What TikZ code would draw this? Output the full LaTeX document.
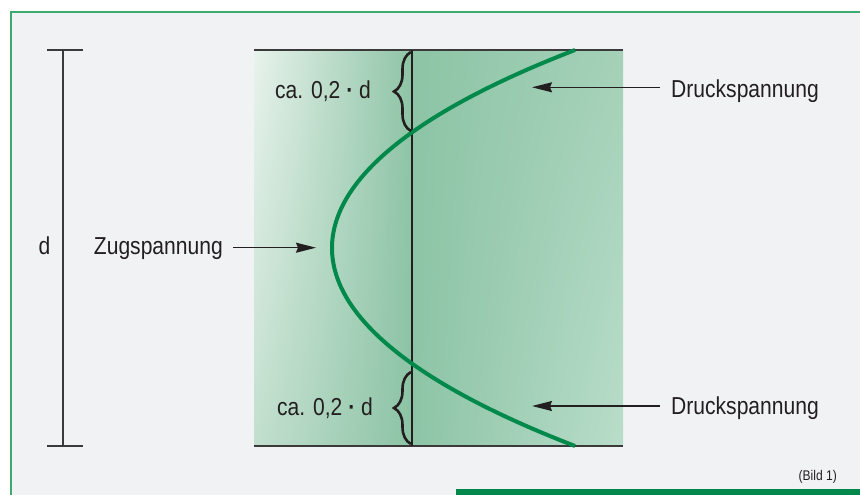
\documentclass[tikz,border=0pt]{standalone}
\usepackage{fontspec}
\setmainfont[FakeStretch=0.86]{Liberation Sans}
\usetikzlibrary{arrows.meta,decorations.pathreplacing,shadings}
\definecolor{bg}{HTML}{F1F2F4}
\definecolor{framec}{HTML}{3DAA6F}
\definecolor{curvec}{HTML}{00894B}
\definecolor{ink}{HTML}{231F20}
\definecolor{barc}{HTML}{00884A}
\definecolor{lineg}{HTML}{3A3A3A}
\newcommand{\mdot}{{\bfseries ·}}
\begin{document}
\begin{tikzpicture}[x=1pt,y=-1pt,
  lbl/.style={inner sep=0pt, font=\fontsize{24.5}{28}\selectfont, text=ink},
  arr/.style={draw=ink, line width=1.5pt, -{Stealth[length=20pt,width=10pt,inset=2pt]}},
  dimline/.style={draw=lineg, line width=1.3pt},
  bracec/.style={draw=ink, line width=2.6pt, decorate, decoration={brace,amplitude=17pt,aspect=0.5}},
  stress/.style={draw=curvec, line width=4pt}]
\useasboundingbox (0,0) rectangle (860,495);
\fill[white] (0,0) rectangle (860,495);
\fill[bg] (11,12) rectangle (860,495);
\draw[framec, line width=1.2pt] (11,495) -- (11,12) -- (860,12);
\fill[barc] (456,489) rectangle (860,495);
% shaded body
\shade[upper left={rgb,255:red,232;green,243;blue,236}, lower left={rgb,255:red,194;green,223;blue,206},
       upper right={rgb,255:red,142;green,196;blue,166}, lower right={rgb,255:red,140;green,195;blue,165}]
  (254,50) rectangle (412,446);
\shade[upper left={rgb,255:red,141;green,196;blue,166}, lower left={rgb,255:red,141;green,196;blue,166},
       upper right={rgb,255:red,164;green,209;blue,184}, lower right={rgb,255:red,185;green,221;blue,202}]
  (412,50) rectangle (623,446);
% body lines
\coordinate (tl) at (254,50); \coordinate (tr) at (623,50);
\coordinate (bl) at (254,446); \coordinate (br) at (623,446);
\coordinate (mt) at (412,50); \coordinate (mb) at (412,446);
\draw[dimline] (tl) -- (tr);
\draw[dimline] (bl) -- (br);
\draw[draw=ink, line width=1.6pt] (mt) -- (mb);
% stress curve
\coordinate (ct) at (575,50); \coordinate (cb) at (575,446);
\draw[stress] (ct) .. controls (251,175) and (251,321) .. (cb);
% dimension d
\coordinate (dt) at (63,50); \coordinate (db) at (63,446);
\draw[dimline] (dt) -- (db);
\draw[dimline] (47,50) -- (83,50);
\draw[dimline] (47,446) -- (83,446);
\node[lbl, anchor=base] (d) at (44.5,254.3) {d};
% braces
\coordinate (b1t) at (411,52); \coordinate (b1b) at (411,131);
\coordinate (b2t) at (411,372); \coordinate (b2b) at (411,444);
\draw[bracec] (b1b) -- (b1t);
\draw[bracec] (b2b) -- (b2t);
\node[lbl, anchor=base west] (ca1) at (275,98.5) {ca. 0,2 \mdot{} d};
\node[lbl, anchor=base west] (ca2) at (277,415) {ca. 0,2 \mdot{} d};
% labels with arrows
\node[lbl, anchor=base east] (zug) at (223,254.3) {Zugspannung};
\coordinate (zugtip) at (316,247.7);
\draw[arr] (zugtip -| zug.east) ++(10,0) -- (zugtip);
\node[lbl, anchor=base west] (dr1) at (671,98) {Druckspannung};
\coordinate (dr1tip) at (532,87.3);
\draw[arr] (dr1tip -| dr1.west) ++(-11,0) -- (dr1tip);
\node[lbl, anchor=base west] (dr2) at (671,414) {Druckspannung};
\coordinate (dr2tip) at (532,406);
\draw[arr] (dr2tip -| dr2.west) ++(-11,0) -- (dr2tip);
\node[inner sep=0pt, anchor=base east, font=\fontsize{14}{16}\selectfont, text=ink] (bild) at (837,480) {(Bild 1)};
\end{tikzpicture}
\end{document}
